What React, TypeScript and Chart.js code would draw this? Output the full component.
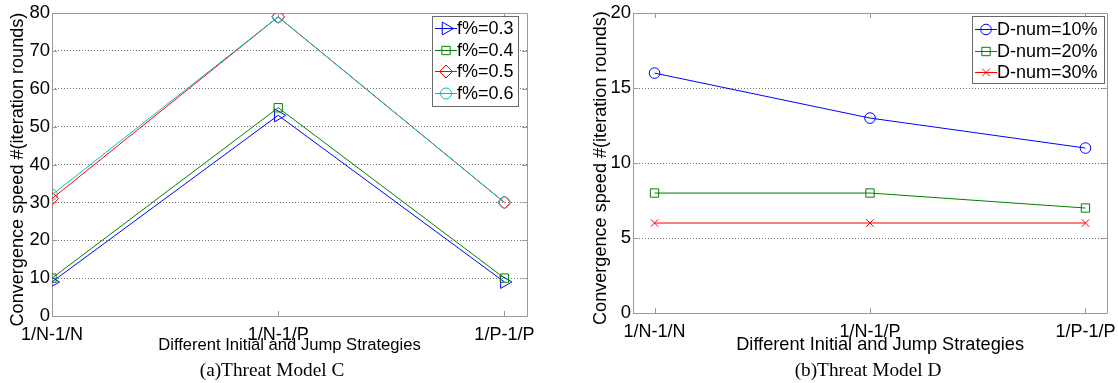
import { useEffect, useRef } from 'react';
import { Chart, registerables } from 'chart.js';

Chart.register(...registerables);

// ---------- data ----------
const categories = ['1/N-1/N', '1/N-1/P', '1/P-1/P'];
const xPositions = [1, 2, 3];

const modelCLabels = ['f%=0.3', 'f%=0.4', 'f%=0.5', 'f%=0.6'];
const modelC_f03 = [9, 53, 9];
const modelC_f04 = [10, 55, 10];
const modelC_f05 = [31, 79, 30];
const modelC_f06 = [32, 79, 30];

const modelDLabels = ['D-num=10%', 'D-num=20%', 'D-num=30%'];
const modelD_d10 = [16, 13, 11];
const modelD_d20 = [8, 8, 7];
const modelD_d30 = [6, 6, 6];

const yTicksC = [0, 10, 20, 30, 40, 50, 60, 70, 80];
const yTicksD = [0, 5, 10, 15, 20];

const Y_TITLE = 'Convergence speed #(iteration rounds)';
const X_TITLE = 'Different Initial and Jump Strategies';

const SANS = '"Liberation Sans", Arial, sans-serif';
const SERIF = '"Liberation Serif", "Times New Roman", serif';

const BLUE = '#0000ff';
const GREEN = '#008000';
const RED = '#ff0000';
const CYAN = '#00bfbf';

type Marker = 'triangleRight' | 'rect' | 'diamond' | 'circle' | 'cross';

function drawMarker(ctx: CanvasRenderingContext2D, m: Marker, x: number, y: number, r: number, color: string) {
  ctx.save();
  ctx.strokeStyle = color;
  ctx.lineWidth = 1;
  ctx.beginPath();
  if (m === 'triangleRight') {
    ctx.moveTo(x + r, y);
    ctx.lineTo(x - r / 2, y - r * 0.866);
    ctx.lineTo(x - r / 2, y + r * 0.866);
    ctx.closePath();
  } else if (m === 'rect') {
    const s = r * Math.SQRT1_2;
    ctx.rect(x - s, y - s, 2 * s, 2 * s);
  } else if (m === 'diamond') {
    ctx.moveTo(x, y - r);
    ctx.lineTo(x + r, y);
    ctx.lineTo(x, y + r);
    ctx.lineTo(x - r, y);
    ctx.closePath();
  } else if (m === 'circle') {
    ctx.arc(x, y, r, 0, Math.PI * 2);
  } else {
    const s = r * Math.SQRT1_2;
    ctx.moveTo(x - s, y - s);
    ctx.lineTo(x + s, y + s);
    ctx.moveTo(x + s, y - s);
    ctx.lineTo(x - s, y + s);
  }
  ctx.stroke();
  ctx.restore();
}

const framePlugin = {
  id: 'matlabFrame',
  beforeDatasetsDraw(chart: any) {
    const { ctx, chartArea: a } = chart;
    const xs = chart.scales.x;
    const ys = chart.scales.y;
    ctx.save();
    ctx.strokeStyle = '#9a9a9a';
    ctx.lineWidth = 1;
    ctx.beginPath();
    ctx.rect(Math.round(a.left) + 0.5, Math.round(a.top) + 0.5, Math.round(a.right - a.left), Math.round(a.bottom - a.top));
    const tl = 5;
    ys.ticks.forEach((t: any) => {
      const p = Math.round(ys.getPixelForValue(t.value)) + 0.5;
      ctx.moveTo(a.left, p);
      ctx.lineTo(a.left + tl, p);
      ctx.moveTo(a.right, p);
      ctx.lineTo(a.right - tl, p);
    });
    xs.ticks.forEach((t: any) => {
      const p = Math.round(xs.getPixelForValue(t.value)) + 0.5;
      ctx.moveTo(p, a.bottom);
      ctx.lineTo(p, a.bottom - tl);
      ctx.moveTo(p, a.top);
      ctx.lineTo(p, a.top + tl);
    });
    ctx.stroke();
    ctx.restore();
  },
  afterDraw(chart: any, _args: any, opts: any) {
    const { ctx, chartArea: a } = chart;
    const items = opts.items as { label: string; color: string; marker: Marker; r: number }[];
    if (!items) return;
    ctx.save();
    ctx.font = `${opts.fontSize}px ${SANS}`;
    const tw = Math.max(...items.map((it) => ctx.measureText(it.label).width));
    const w = Math.round(25 + tw + opts.padRight);
    const right = Math.round(a.right - opts.insetRight);
    const left = right - w;
    const top = Math.round(a.top + opts.insetTop);
    const h = opts.height;
    ctx.fillStyle = '#ffffff';
    ctx.fillRect(left, top, w, h);
    ctx.strokeStyle = '#6a6a6a';
    ctx.lineWidth = 1;
    ctx.strokeRect(left + 0.5, top + 0.5, w, h);
    items.forEach((it, i) => {
      const cy = Math.round(top + opts.firstRow + i * opts.rowH) + 0.5;
      ctx.strokeStyle = it.color;
      ctx.beginPath();
      ctx.moveTo(left + 3, cy);
      ctx.lineTo(left + 25, cy);
      ctx.stroke();
      drawMarker(ctx, it.marker, left + 14, cy, it.r, it.color);
      ctx.fillStyle = '#000';
      ctx.textBaseline = 'middle';
      ctx.textAlign = 'left';
      ctx.fillText(it.label, left + 25, cy + 1);
    });
    ctx.restore();
  },
};

function makeDataset(label: string, values: number[], color: string, style: any, r: number, rot: number, order: number) {
  return {
    label,
    data: values.map((v, i) => ({ x: xPositions[i], y: v })),
    borderColor: color,
    backgroundColor: color,
    borderWidth: 1,
    pointStyle: style,
    pointRotation: rot,
    pointRadius: r,
    pointHoverRadius: r,
    pointBorderColor: color,
    pointBackgroundColor: 'rgba(0,0,0,0)',
    pointBorderWidth: 1,
    tension: 0,
    fill: false,
    order,
  };
}

function buildOptions(p: {
  yMax: number;
  yTicks: number[];
  xMin: number;
  xMax: number;
  yWidth: number;
  xHeight: number;
  yTitlePad: number;
  xTitleSize: number;
  xTitlePad: number;
  xTitleText: string;
  padRight: number;
  legend: any;
}) {
  return {
    responsive: false,
    animation: false,
    devicePixelRatio: 1,
    layout: { padding: { left: 0, top: 12, right: p.padRight, bottom: 0 } },
    plugins: {
      legend: { display: false },
      tooltip: { enabled: false },
      matlabFrame: p.legend,
    },
    scales: {
      x: {
        type: 'linear',
        min: p.xMin,
        max: p.xMax,
        afterBuildTicks: (s: any) => {
          s.ticks = xPositions.map((v) => ({ value: v }));
        },
        ticks: {
          callback: (v: any) => {
            const i = xPositions.indexOf(Number(v));
            return i >= 0 ? categories[i] : '';
          },
          font: { family: SANS, size: 18 },
          color: '#000',
          padding: 0,
          maxRotation: 0,
          autoSkip: false,
        },
        grid: { display: false },
        border: { display: false },
        title: {
          display: true,
          text: p.xTitleText,
          font: { family: SANS, size: p.xTitleSize },
          color: '#000',
          padding: { top: 0, bottom: p.xTitlePad },
        },
        afterFit: (s: any) => {
          s.height = p.xHeight;
        },
      },
      y: {
        type: 'linear',
        min: 0,
        max: p.yMax,
        afterBuildTicks: (s: any) => {
          s.ticks = p.yTicks.map((v) => ({ value: v }));
        },
        ticks: {
          font: { family: SANS, size: 18.5 },
          color: '#000',
          padding: 2,
        },
        grid: { drawTicks: false, color: '#707070', lineWidth: 1 },
        border: { display: false, dash: [1, 2] },
        title: {
          display: true,
          // trailing spaces nudge the rotated title slightly downward, as in the reference
          text: Y_TITLE + '  ',
          font: { family: SANS, size: 18.1 },
          color: '#000',
          padding: { top: p.yTitlePad, bottom: 0 },
        },
        afterFit: (s: any) => {
          s.width = p.yWidth;
        },
      },
    },
  };
}

function ChartC() {
  const ref = useRef<HTMLCanvasElement>(null);
  useEffect(() => {
    const datasets = [
      makeDataset(modelCLabels[0], modelC_f03, BLUE, 'triangle', 7.5, 90, 3),
      makeDataset(modelCLabels[1], modelC_f04, GREEN, 'rect', 5.9, 0, 2),
      makeDataset(modelCLabels[2], modelC_f05, RED, 'rectRot', 6.5, 0, 1),
      makeDataset(modelCLabels[3], modelC_f06, CYAN, 'circle', 5.5, 0, 0),
    ];
    const chart = new Chart(ref.current as HTMLCanvasElement, {
      type: 'line',
      data: { datasets } as any,
      options: buildOptions({
        yMax: 80,
        yTicks: yTicksC,
        xMin: 1,
        xMax: 3.1,
        yWidth: 52,
        xHeight: 67,
        yTitlePad: 7,
        xTitleSize: 16.6,
        xTitlePad: 28,
        xTitleText: X_TITLE,
        padRight: 33,
        legend: {
          items: [
            { label: modelCLabels[0], color: BLUE, marker: 'triangleRight', r: 7.5 },
            { label: modelCLabels[1], color: GREEN, marker: 'rect', r: 5.9 },
            { label: modelCLabels[2], color: RED, marker: 'diamond', r: 6.5 },
            { label: modelCLabels[3], color: CYAN, marker: 'circle', r: 5.5 },
          ],
          fontSize: 18,
          insetRight: 9,
          insetTop: 3,
          height: 90,
          firstRow: 12,
          rowH: 21.7,
          padRight: 4,
        },
      }) as any,
      plugins: [framePlugin],
    });
    return () => chart.destroy();
  }, []);
  return <canvas ref={ref} width={560} height={383} style={{ position: 'absolute', left: 0, top: 0, width: 560, height: 383 }} />;
}

function ChartD() {
  const ref = useRef<HTMLCanvasElement>(null);
  useEffect(() => {
    const datasets = [
      makeDataset(modelDLabels[0], modelD_d10, BLUE, 'circle', 5.3, 0, 2),
      makeDataset(modelDLabels[1], modelD_d20, GREEN, 'rect', 5.9, 0, 1),
      makeDataset(modelDLabels[2], modelD_d30, RED, 'crossRot', 5.3, 0, 0),
    ];
    const chart = new Chart(ref.current as HTMLCanvasElement, {
      type: 'line',
      data: { datasets } as any,
      options: buildOptions({
        yMax: 20,
        yTicks: yTicksD,
        xMin: 0.9,
        xMax: 3.1,
        yWidth: 73,
        xHeight: 70,
        yTitlePad: 30,
        xTitleSize: 18.2,
        xTitlePad: 27,
        // leading spaces nudge the title right, matching the reference placement
        xTitleText: '    ' + X_TITLE,
        padRight: 11,
        legend: {
          items: [
            { label: modelDLabels[0], color: BLUE, marker: 'circle', r: 5.3 },
            { label: modelDLabels[1], color: GREEN, marker: 'rect', r: 5.9 },
            { label: modelDLabels[2], color: RED, marker: 'cross', r: 5.3 },
          ],
          fontSize: 18,
          insetRight: 3,
          insetTop: 3,
          height: 67,
          firstRow: 13,
          rowH: 21.5,
          padRight: 6,
        },
      }) as any,
      plugins: [framePlugin],
    });
    return () => chart.destroy();
  }, []);
  return <canvas ref={ref} width={558} height={383} style={{ position: 'absolute', left: 560, top: 0, width: 558, height: 383 }} />;
}

const captionStyle: any = {
  position: 'absolute',
  top: 359,
  width: 300,
  textAlign: 'center',
  fontFamily: SERIF,
  fontSize: 19.3,
  lineHeight: '22px',
  color: '#000',
  whiteSpace: 'nowrap',
};

export default function App() {
  return (
    <div style={{ position: 'absolute', left: 0, top: 0, width: 1118, height: 383, background: '#fff', overflow: 'hidden' }}>
      <ChartC />
      <ChartD />
      <div style={{ ...captionStyle, left: 272 - 150 }}>(a)Threat Model C</div>
      <div style={{ ...captionStyle, left: 868 - 150 }}>(b)Threat Model D</div>
    </div>
  );
}
